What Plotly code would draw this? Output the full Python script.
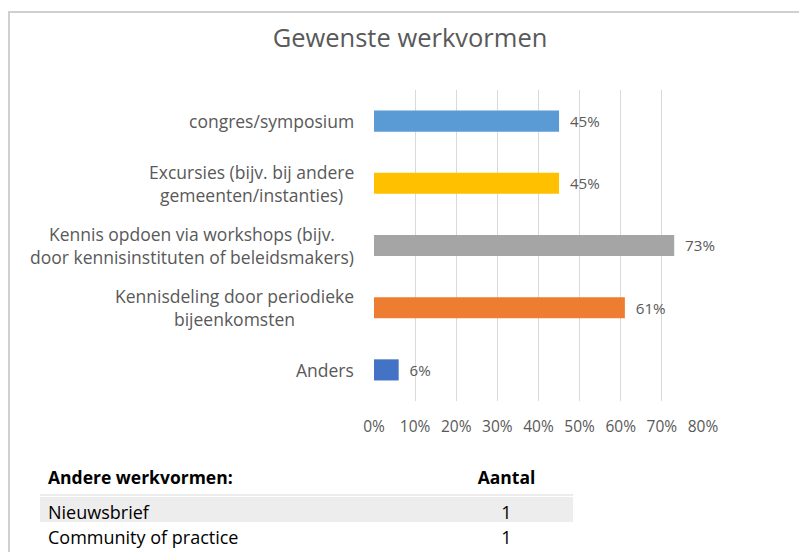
import plotly.graph_objects as go

# chart data
categories = [
    "congres/symposium",
    "Excursies (bijv. bij andere<br>gemeenten/instanties)",
    "Kennis opdoen via workshops (bijv.<br>door kennisinstituten of beleidsmakers)",
    "Kennisdeling door periodieke<br>bijeenkomsten",
    "Anders",
]
shares = [0.45, 0.45, 0.73, 0.61, 0.06]
bar_colors = ["#5B9BD5", "#FFC000", "#A5A5A5", "#ED7D31", "#4472C4"]
x_ticks = [0, 0.1, 0.2, 0.3, 0.4, 0.5, 0.6, 0.7, 0.8]

# table below the chart
table_header = ["Andere werkvormen:", "Aantal"]
other_forms = ["Nieuwsbrief", "Community of practice"]
other_counts = [1, 1]

# the page body has an 8px margin, so the figure is a bit smaller than the window
OFF = 8
W, H = 807 - 2 * OFF, 560 - 2 * OFF
FONT = "Open Sans"
GREY = "#595959"


def px(x):
    return (x - OFF) / W


def py(y):
    return 1 - (y - OFF) / H


fig = go.Figure()

fig.add_trace(go.Bar(
    y=categories, x=shares, orientation="h",
    marker=dict(color=bar_colors, line=dict(width=0)),
    texttemplate="\u00a0\u00a0%{x:.0%}", textposition="outside",
    textfont=dict(family=FONT, size=16.5, color=GREY),
    cliponaxis=False, hoverinfo="skip", showlegend=False,
))

# category labels (centred multi-line, right aligned to the axis)
for c in categories:
    fig.add_annotation(x=px(356), xref="paper", y=c, yref="y", text=c,
                       xanchor="right", align="center", showarrow=False,
                       font=dict(family=FONT, size=17.5, color=GREY))

fig.add_trace(go.Table(
    domain=dict(x=[px(40), px(573)], y=[0, py(457)]),
    columnwidth=[400, 133],
    header=dict(values=["<b>%s</b>" % h for h in table_header],
                align=["left", "center"], height=23,
                fill_color="white", line_color="rgba(0,0,0,0)",
                font=dict(family=FONT, size=17.5, color="#000000")),
    cells=dict(values=[other_forms, other_counts],
               align=["left", "center"], height=25,
               fill_color=[["#EDEDED", "white"], ["#EDEDED", "white"]],
               line_color="rgba(0,0,0,0)",
               font=dict(family=FONT, size=18, color="#000000")),
))

# outer chart frame
fig.add_shape(type="rect", xref="paper", yref="paper",
              x0=px(9), x1=1.05, y0=-0.05, y1=py(12),
              line=dict(color="#D0D0D0", width=2), fillcolor="rgba(0,0,0,0)")
fig.add_shape(type="line", xref="paper", yref="paper",
              x0=px(40), x1=px(573), y0=py(495), y1=py(495),
              line=dict(color="#D9D9D9", width=1))

fig.update_layout(
    template="none",
    width=W, height=H,
    margin=dict(l=0, r=0, t=0, b=0, pad=0),
    paper_bgcolor="white", plot_bgcolor="white",
    showlegend=False,
    title=dict(text="Gewenste werkvormen", x=px(410), xanchor="center",
               y=py(38), yanchor="middle",
               font=dict(family=FONT, size=25.5, color=GREY)),
    bargap=0.66,
    font=dict(family=FONT, color=GREY),
)
fig.update_xaxes(domain=[px(374), px(703)], range=[0, 0.8], automargin=False,
                 tickvals=x_ticks, tickformat=".0%",
                 showgrid=True, gridcolor="#D9D9D9", gridwidth=1,
                 zeroline=False, showline=False,
                 ticks="", ticklabelstandoff=14,
                 tickfont=dict(family=FONT, size=15.5, color=GREY))
fig.update_yaxes(domain=[py(401), py(90)], automargin=False,
                 categoryorder="array", categoryarray=categories[::-1],
                 showticklabels=False, showgrid=False, zeroline=False, showline=False)

fig.write_html("out.html")
